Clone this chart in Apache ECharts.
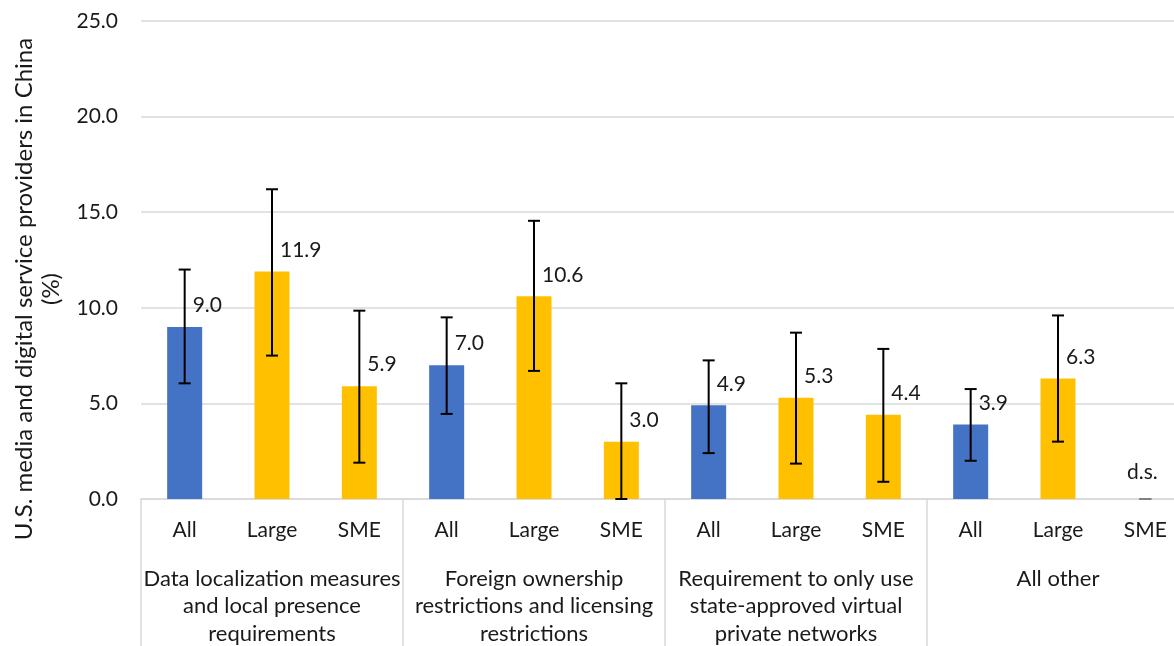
<!DOCTYPE html>
<html>
<head>
<meta charset="utf-8">
<script src="https://cdn.jsdelivr.net/npm/echarts@6/dist/echarts.min.js"></script>
<style>
html,body{margin:0;padding:0;background:#fff;}
#chart{width:1174px;height:646px;}
</style>
</head>
<body>
<div id="chart"></div>
<script>
const categories = ['All','Large','SME','All','Large','SME','All','Large','SME','All','Large','SME'];
const groups = [
  'Data localization measures\nand local presence\nrequirements',
  'Foreign ownership\nrestrictions and licensing\nrestrictions',
  'Requirement to only use\nstate-approved virtual\nprivate networks',
  'All other'
];
const values = [9.0, 11.9, 5.9, 7.0, 10.6, 3.0, 4.9, 5.3, 4.4, 3.9, 6.3, null];
const errLow = [6.05, 7.5, 1.9, 4.45, 6.7, 0.0, 2.4, 1.85, 0.9, 2.0, 3.0, 0.0];
const errHigh = [12.0, 16.2, 9.85, 9.5, 14.55, 6.05, 7.25, 8.7, 7.85, 5.75, 9.6, 0.0];
const yTicks = [0, 5, 10, 15, 20, 25];
const yTitle = 'U.S. media and digital service providers in China\n(%)';
const suppressedLabel = 'd.s.';

const FONT = 'Lato, Carlito, Calibri, "Noto Sans", sans-serif';
const BLUE = '#4472C4', GOLD = '#FFC000';

const barData = values.map((v, i) => {
  const color = categories[i] === 'All' ? BLUE : GOLD;
  if (v === null) {
    return {
      value: 0,
      itemStyle: {color: color},
      label: {show: true, formatter: suppressedLabel, align: 'center', offset: [-3, -5]}
    };
  }
  return {value: v, itemStyle: {color: color}};
});

const errData = errLow.map((lo, i) => [i, lo, errHigh[i], values[i] === null ? 1 : 0]);

const chart = echarts.init(document.getElementById('chart'), null, {renderer: 'canvas'});
chart.setOption({
  animation: false,
  backgroundColor: '#ffffff',
  textStyle: {fontFamily: FONT},
  grid: {left: 141, right: -15, top: 21, bottom: 147, containLabel: false, outerBoundsMode: 'none'},
  xAxis: [
    {
      type: 'category',
      data: categories,
      axisLine: {show: true, lineStyle: {color: '#d9d9d9', width: 1.5}},
      axisTick: {show: false},
      axisLabel: {color: '#1a1a1a', fontSize: 21, fontFamily: FONT, margin: 21, interval: 0}
    },
    {
      type: 'category',
      data: groups,
      position: 'bottom',
      axisLine: {show: false},
      axisTick: {show: true, length: 150, lineStyle: {color: '#d9d9d9', width: 1.5}},
      axisLabel: {color: '#1a1a1a', fontSize: 22, fontFamily: FONT, margin: 66, lineHeight: 27.5, interval: 0, verticalAlign: 'top'},
      splitLine: {show: false}
    }
  ],
  yAxis: {
    type: 'value',
    min: yTicks[0],
    max: yTicks[yTicks.length - 1],
    interval: 5,
    axisLine: {show: false},
    axisTick: {show: false},
    axisLabel: {color: '#1a1a1a', fontSize: 21, fontFamily: FONT, margin: 23, formatter: v => v.toFixed(1)},
    splitLine: {show: true, lineStyle: {color: '#d9d9d9', width: 1.5}}
  },
  graphic: [{
    type: 'text',
    x: 37.5,
    y: 289,
    rotation: Math.PI / 2,
    style: {
      text: yTitle,
      font: '24px ' + FONT,
      fill: '#1a1a1a',
      align: 'center',
      verticalAlign: 'middle',
      lineHeight: 27
    }
  }],
  series: [
    {
      type: 'bar',
      xAxisIndex: 0,
      data: barData,
      barWidth: 35,
      label: {
        show: true,
        position: 'top',
        distance: 11,
        align: 'left',
        offset: [8, 0],
        color: '#1a1a1a',
        fontSize: 21,
        fontFamily: FONT,
        formatter: p => p.value.toFixed(1)
      },
      z: 2
    },
    {
      type: 'custom',
      xAxisIndex: 0,
      data: errData,
      z: 5,
      renderItem: function (params, api) {
        const x = api.value(0);
        const lo = api.coord([x, api.value(1)]);
        const hi = api.coord([x, api.value(2)]);
        const cap = 6;
        const style = {stroke: api.value(3) ? '#808080' : '#000', lineWidth: 2};
        return {
          type: 'group',
          children: [
            {type: 'line', shape: {x1: lo[0], y1: lo[1], x2: hi[0], y2: hi[1]}, style: style},
            {type: 'line', shape: {x1: hi[0] - cap, y1: hi[1], x2: hi[0] + cap, y2: hi[1]}, style: style},
            {type: 'line', shape: {x1: lo[0] - cap, y1: lo[1], x2: lo[0] + cap, y2: lo[1]}, style: style}
          ]
        };
      }
    }
  ]
});
</script>
</body>
</html>
